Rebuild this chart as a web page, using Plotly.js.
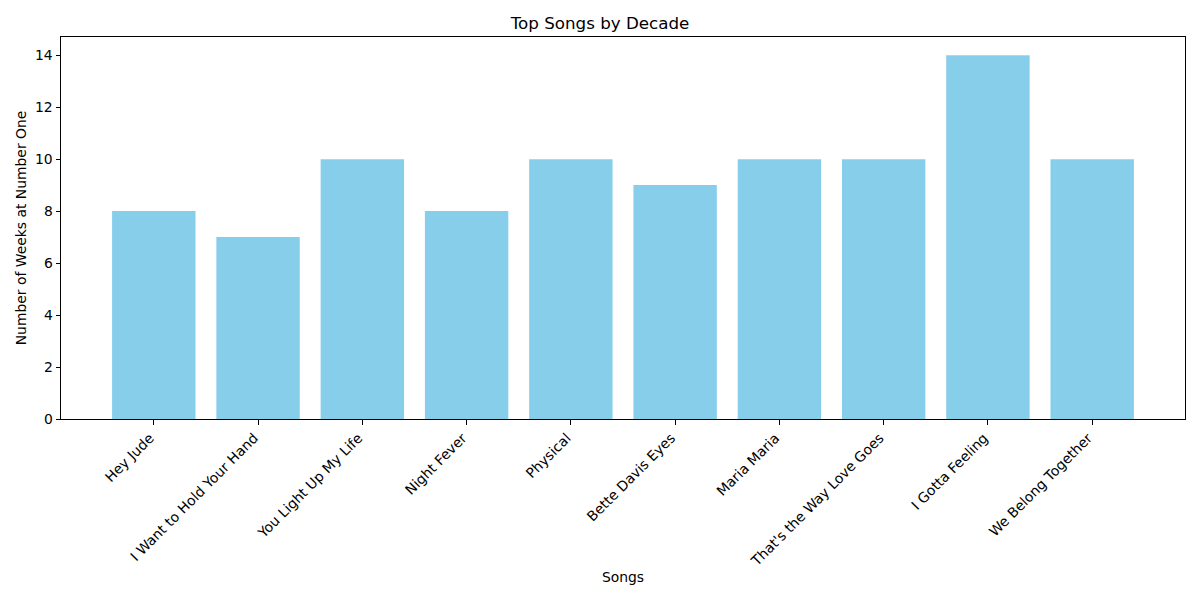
<!DOCTYPE html>
<html>
<head>
<meta charset="utf-8">
<script src="https://cdn.plot.ly/plotly-3.0.1.min.js"></script>
<style>
  html, body { margin: 0; padding: 0; background: #fff; }
  #chart { width: 1200px; height: 600px; }
</style>
</head>
<body>
<div id="chart"></div>
<script>
var songs = ['Hey Jude', 'I Want to Hold Your Hand', 'You Light Up My Life', 'Night Fever',
    'Physical', 'Bette Davis Eyes', 'Maria Maria', "That's the Way Love Goes",
    'I Gotta Feeling', 'We Belong Together'];
var weeks = [8, 7, 10, 8, 10, 9, 10, 10, 14, 10];
var yTicks = [0, 2, 4, 6, 8, 10, 12, 14];

var trace = {
    x: songs,
    y: weeks,
    type: 'bar',
    width: 0.8,
    marker: { color: '#87CEEB' },
    hoverinfo: 'x+y'
};

var axisStyle = {
    showline: true,
    linecolor: '#000',
    linewidth: 1,
    mirror: true,
    ticks: 'outside',
    ticklen: 4.5,
    tickcolor: '#000',
    showgrid: false,
    zeroline: false,
    tickfont: { family: 'DejaVu Sans', size: 13.9, color: '#000' }
};

var layout = {
    width: 1200,
    height: 600,
    margin: { l: 61, r: 15, t: 37, b: 181 },
    paper_bgcolor: '#fff',
    plot_bgcolor: '#fff',
    font: { family: 'DejaVu Sans', size: 13.9, color: '#000' },
    title: { text: 'Top Songs by Decade', font: { size: 16.7 }, x: 0.5, xanchor: 'center', y: 0.962, yanchor: 'middle' },
    xaxis: Object.assign({}, axisStyle, {
        type: 'category',
        range: [-0.89, 9.89],
        tickangle: -45,
        ticklabelshift: -4,
        title: { text: 'Songs', font: { size: 13.9 }, standoff: 3 }
    }),
    yaxis: Object.assign({}, axisStyle, {
        range: [0, 14.7],
        tickvals: yTicks,
        title: { text: 'Number of Weeks at Number One', font: { size: 13.9 }, standoff: 5 }
    }),
    showlegend: false
};

Plotly.newPlot('chart', [trace], layout, { displayModeBar: false });
</script>
</body>
</html>
